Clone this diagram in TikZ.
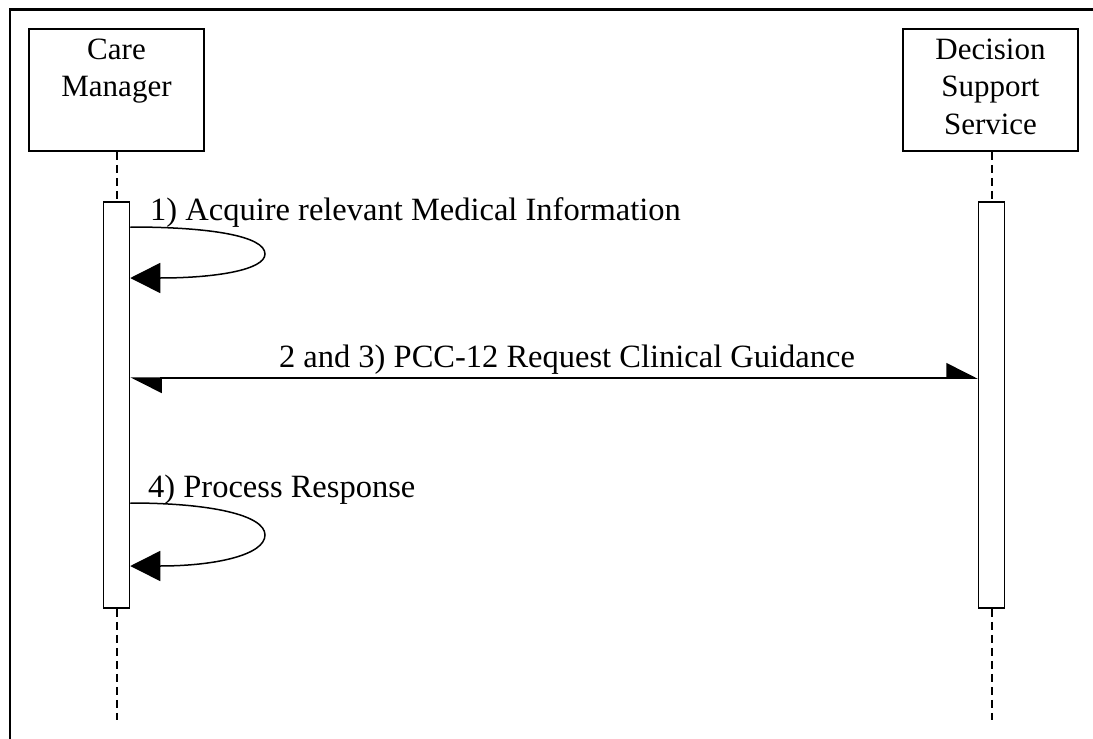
\documentclass[tikz,border=0pt]{standalone}
\usepackage{fontspec}
\setmainfont{Liberation Serif}
\usetikzlibrary{arrows.meta}
\tikzset{
  x=1pt, y=-1pt,
  actor/.style={draw, line width=1.5pt, minimum width=175pt, minimum height=122pt, inner sep=0pt},
  lbl/.style={font=\fontsize{31}{37.5}\selectfont, inner sep=0pt, align=center},
  mlbl/.style={font=\fontsize{32.5}{38}\selectfont, inner sep=0pt},
  activ/.style={draw, fill=white, line width=1.5pt, minimum width=26pt, minimum height=406pt, inner sep=0pt},
  life/.style={line width=2pt, dash pattern=on 8pt off 5pt},
  selfarrow/.style={line width=1.5pt, -{Triangle[length=30pt,width=30pt]}},
  halfarrows/.style={line width=1.5pt, {Triangle[length=30pt,width=30pt,left]}-{Triangle[length=30pt,width=30pt,left]}},
}
\begin{document}
\begin{tikzpicture}
\useasboundingbox (0,0) rectangle (1093,739);
% outer frame
\draw[line width=2.5pt] (10,739) -- (10,9.5) -- (1093,9.5);
% actors
\node[actor] (cm) at (116.5,90) {};
\node[actor] (dss) at (990.5,90) {};
\node[lbl, anchor=base] (cmt) at (116.5,59) {Care};
\node[lbl, anchor=base] (cmt2) at (116.5,96.5) {Manager};
\node[lbl, anchor=base] (dsst) at (990.5,59) {Decision};
\node[lbl, anchor=base] (dsst2) at (990.5,96.5) {Support};
\node[lbl, anchor=base] (dsst3) at (990.5,134) {Service};
% activation bars
\node[activ] (acm) at (116.5,405) {};
\node[activ] (adss) at (991.5,405) {};
\coordinate (endcm) at (116.5,720);
\coordinate (enddss) at (991.5,720);
% lifelines
\draw[life] (cm.south) -- (acm.north);
\draw[life] (acm.south) -- (endcm);
\draw[life] (dss.south -| adss.north) -- (adss.north);
\draw[life] (adss.south) -- (enddss);
% message 1
\coordinate (s1) at (acm.east |- 0,227);
\coordinate (e1) at (acm.east |- 0,278);
\draw[selfarrow] (s1) .. controls (210,227) and (265,236) .. (265,254) .. controls (265,270) and (215,278) .. (e1);
\node[mlbl, anchor=base west] (t1) at (150,220) {1) Acquire relevant Medical Information};
% message 2 and 3
\coordinate (m2l) at (acm.east |- 0,378);
\coordinate (m2r) at (adss.west |- 0,378);
\draw[halfarrows] (m2l) -- (m2r);
\node[mlbl, anchor=base] (t2) at (567,367) {2 and 3) PCC-12 Request Clinical Guidance};
% message 4
\coordinate (s4) at (acm.east |- 0,503);
\coordinate (e4) at (acm.east |- 0,566);
\draw[selfarrow] (s4) .. controls (210,503) and (265,515) .. (265,535) .. controls (265,555) and (215,566) .. (e4);
\node[mlbl, anchor=base west] (t4) at (148,497) {4) Process Response};
\end{tikzpicture}
\end{document}
